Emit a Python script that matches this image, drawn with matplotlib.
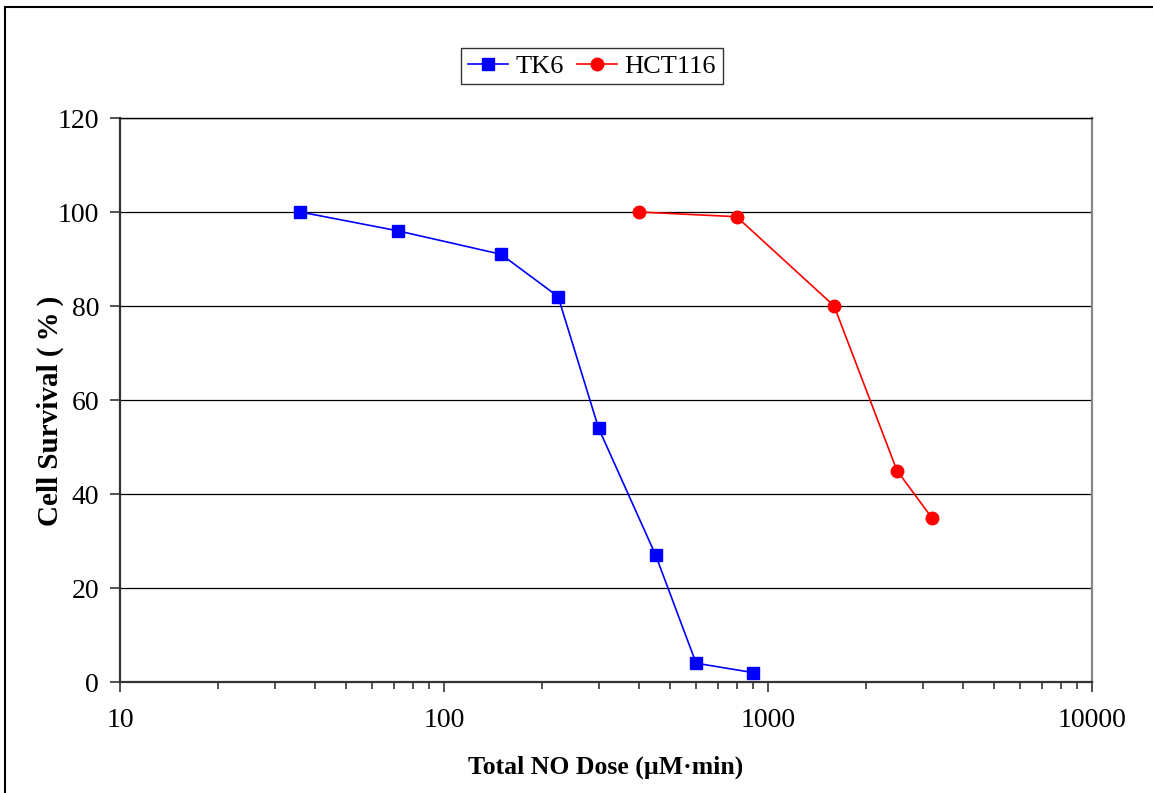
import matplotlib.pyplot as plt
import matplotlib.patches as patches
from matplotlib.ticker import LogLocator, NullFormatter, FixedLocator, FixedFormatter

plt.rcParams['font.family'] = ['Liberation Serif', 'DejaVu Serif']

# TK6 cells
tk6_dose = [36, 72, 150, 225, 300, 450, 600, 900]
tk6_surv = [100, 96, 91, 82, 54, 27, 4, 2]

# HCT116 cells
hct_dose = [400, 800, 1600, 2500, 3200]
hct_surv = [100, 99, 80, 45, 35]

x_ticks = [10, 100, 1000, 10000]
x_labels = ['10', '100', '1000', '10000']
y_ticks = [0, 20, 40, 60, 80, 100, 120]

fig = plt.figure(figsize=(11.53, 7.93), dpi=100)
ax = fig.add_axes([120/1153, 1 - 682/793, (1092-120)/1153, (682-118)/793])

ax.plot(tk6_dose, tk6_surv, color='#0000ff', marker='s', markersize=9,
        linewidth=1.2, label='TK6', zorder=3)
ax.plot(hct_dose, hct_surv, color='#ff0000', marker='o', markersize=9,
        linewidth=1.2, label='HCT116', zorder=3)

ax.set_xscale('log')
ax.set_xlim(10, 10000)
ax.set_ylim(0, 120)
ax.xaxis.set_major_locator(FixedLocator(x_ticks))
ax.xaxis.set_major_formatter(FixedFormatter(x_labels))
ax.xaxis.set_minor_locator(LogLocator(base=10, subs=range(2, 10)))
ax.xaxis.set_minor_formatter(NullFormatter())
ax.set_yticks(y_ticks)

ax.yaxis.grid(True, color='black', linewidth=0.9)
ax.set_axisbelow(True)

ax.tick_params(axis='both', which='major', direction='out', length=7,
               width=1.2, labelsize=20, color='#333333', pad=8)
ax.tick_params(axis='x', which='minor', direction='out', length=5,
               width=1.2, color='#333333')
ax.tick_params(axis='x', which='major', pad=12)

for side in ['left', 'bottom']:
    ax.spines[side].set_color('#333333')
    ax.spines[side].set_linewidth(1.6)
ax.spines['top'].set_color('black')
ax.spines['top'].set_linewidth(1.0)
ax.spines['right'].set_color('#888888')
ax.spines['right'].set_linewidth(1.6)

ax.set_xlabel('Total NO Dose (\u00b5M\u00b7min)', fontsize=18.5, fontweight='bold', labelpad=16)
ax.set_ylabel('Cell Survival (\u2009%\u2009)', fontsize=21, fontweight='bold')
ax.yaxis.set_label_coords(-0.058, 0.481)

leg = fig.legend(loc='center', bbox_to_anchor=(592/1153, 1 - 66/793), ncol=2,
                 fontsize=19, frameon=True, fancybox=False, edgecolor='black',
                 handlelength=1.5, handletextpad=0.3, columnspacing=0.5,
                 borderpad=0.25, borderaxespad=0)
leg.get_frame().set_linewidth(1.0)

# outer chart border
fig.patches.append(patches.Rectangle((5/1153, -0.1), 1.2, 1 - 7/793 + 0.1,
                                     transform=fig.transFigure, fill=False,
                                     edgecolor='black', linewidth=1.5,
                                     clip_on=False))

fig.savefig('out.png', dpi=100)
